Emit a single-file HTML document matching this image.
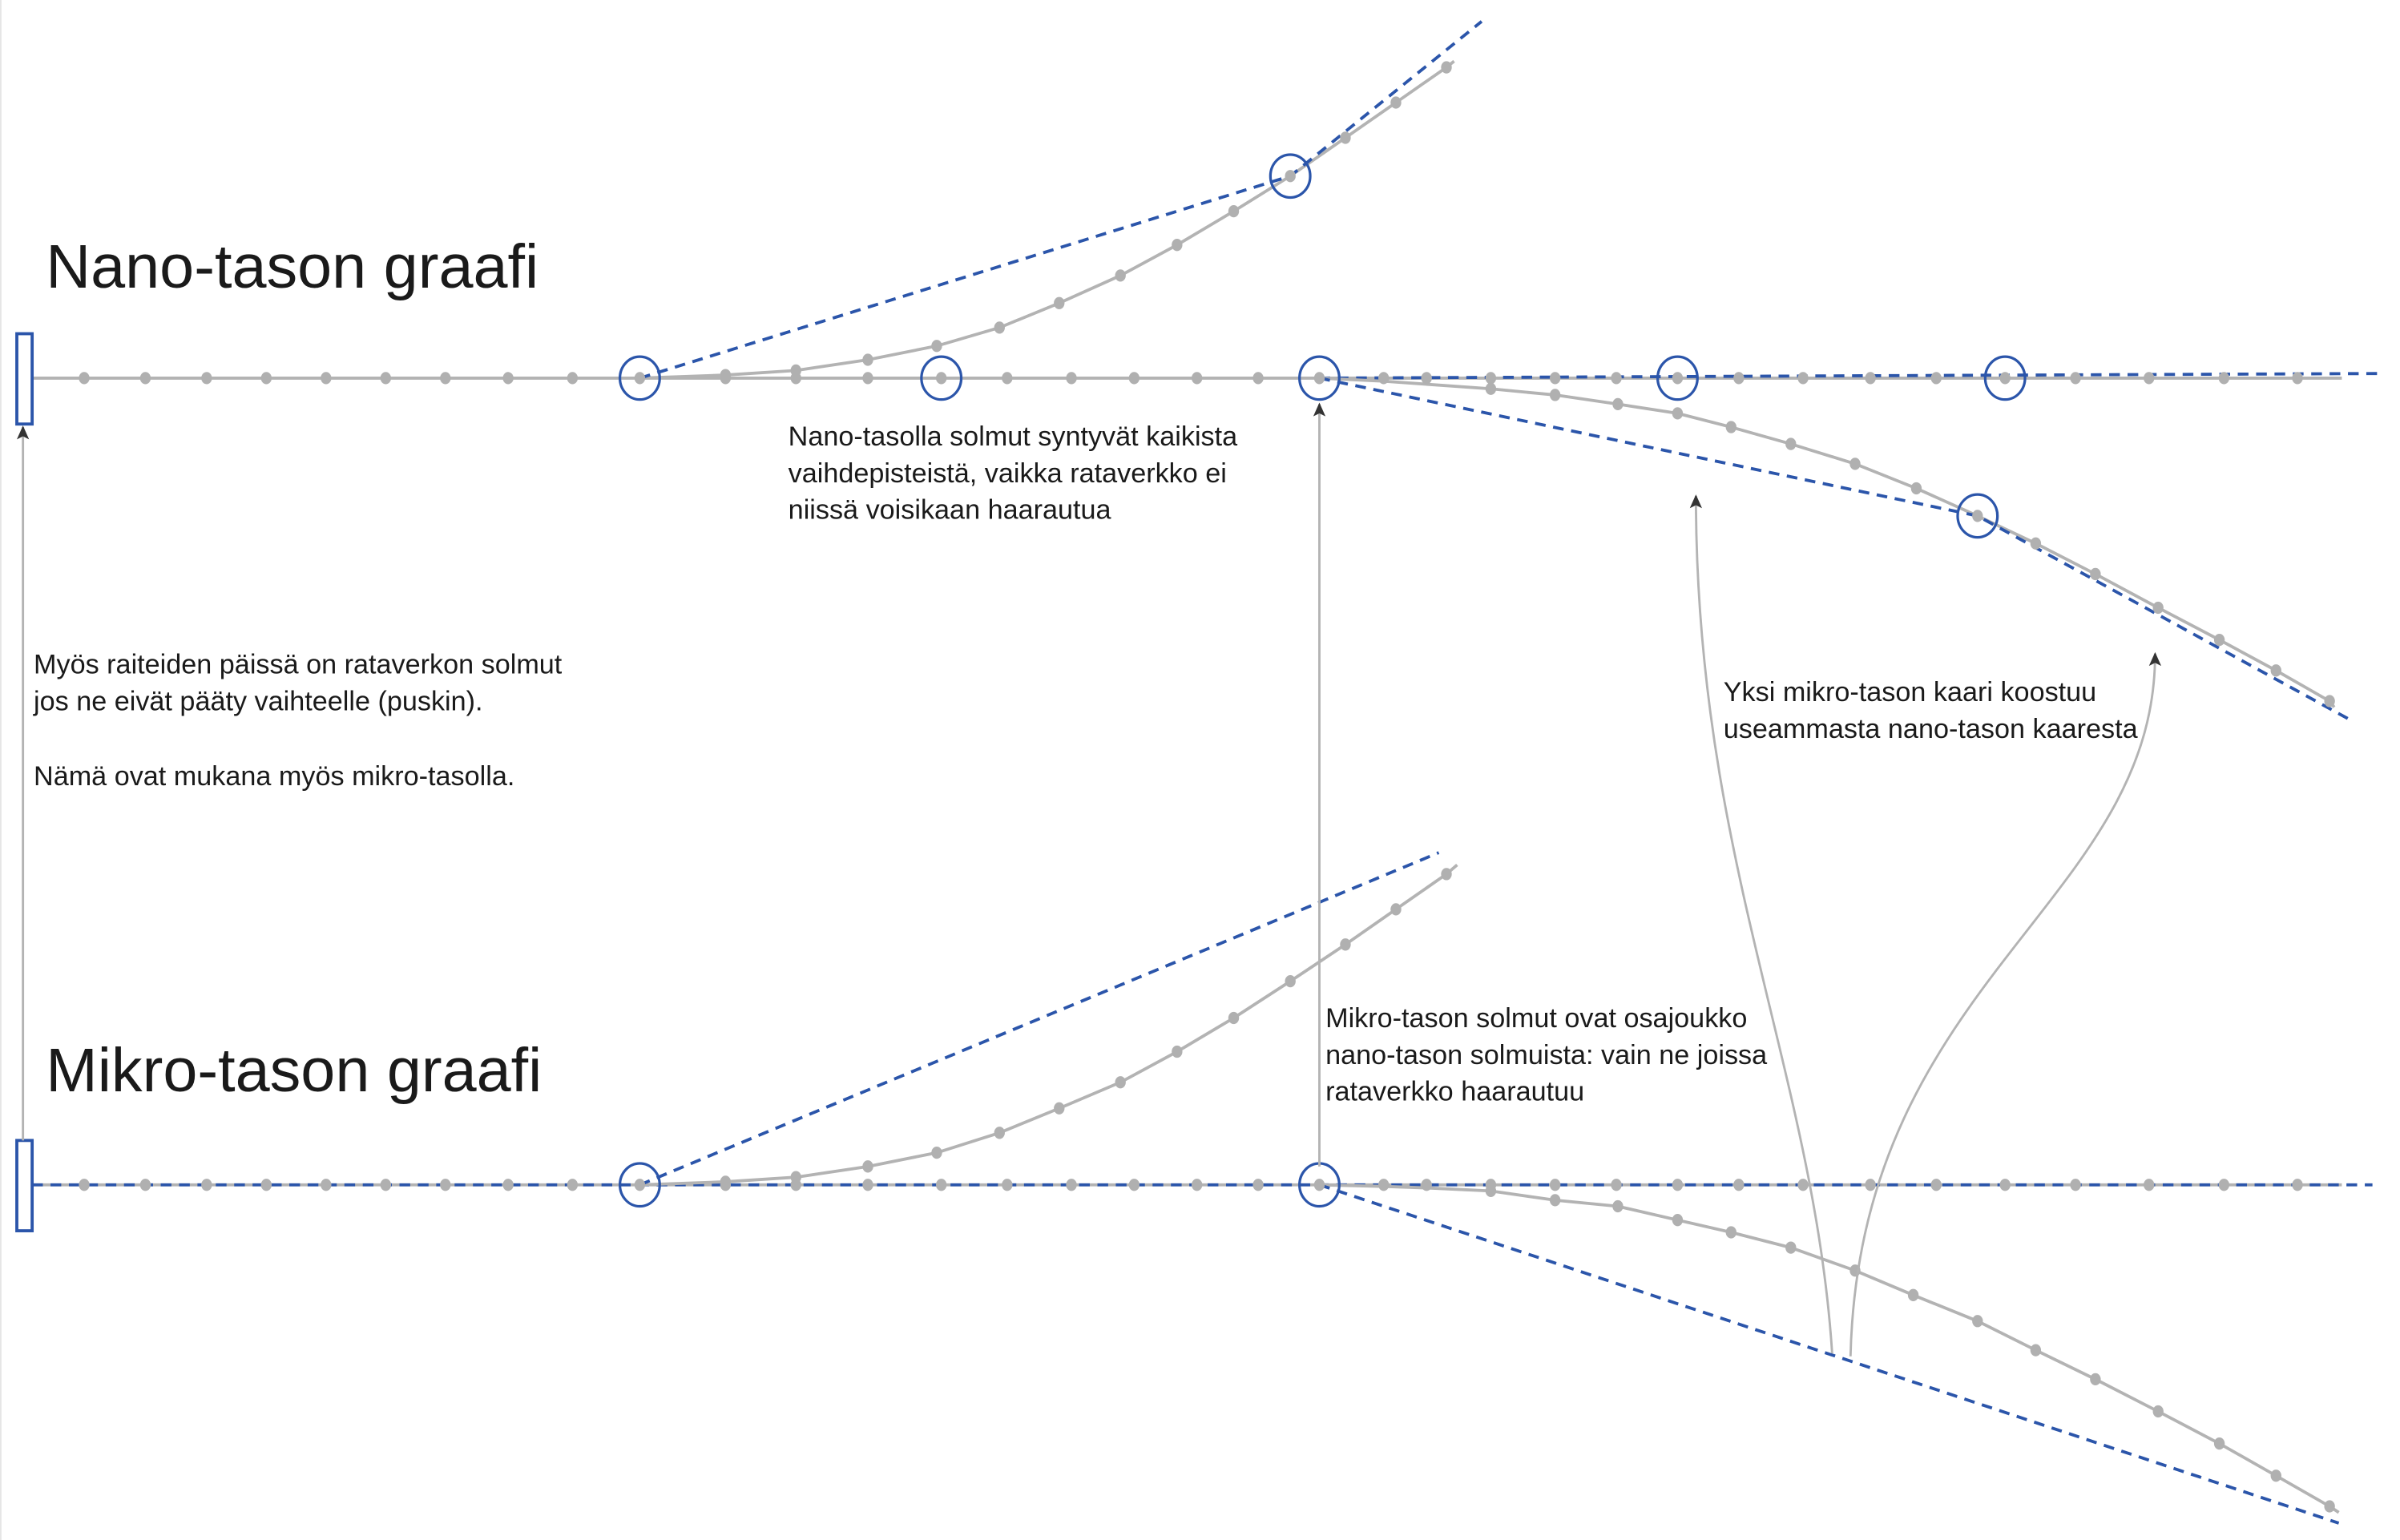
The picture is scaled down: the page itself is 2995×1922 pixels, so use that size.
<!DOCTYPE html>
<html><head><meta charset="utf-8"><style>
html,body{margin:0;padding:0;background:#fff;}
svg{display:block;}
text{font-family:"Liberation Sans",sans-serif;fill:#1a1a1a;}
.s{font-size:17.9px;}
.t{font-size:40.5px;}
.g{fill:none;stroke:#b3b3b3;stroke-width:2;}
.b{fill:none;stroke:#2b55aa;stroke-width:2;stroke-dasharray:7,5;}
.c{fill:none;stroke:#2b55aa;stroke-width:1.7;}
.a{fill:none;stroke:#b3b3b3;stroke-width:1.5;}
</style></head><body>
<svg width="2995" height="1922" viewBox="0 0 1568 1006" preserveAspectRatio="none" xmlns="http://www.w3.org/2000/svg">
<defs><marker id="ar" markerWidth="9" markerHeight="8" refX="8" refY="4" orient="auto" markerUnits="userSpaceOnUse"><path d="M0,0 L9,4 L0,8 L2,4 Z" fill="#333"/></marker></defs>
<rect x="0" y="0" width="1568" height="1006" fill="#fff"/>
<line x1="0.5" y1="0" x2="0.5" y2="1006" stroke="#e6e6e6"/>
<text class="t" x="30" y="188">Nano-tason graafi</text>
<text class="t" x="30" y="713">Mikro-tason graafi</text>

<!-- NANO -->
<line x1="21" y1="247" x2="418" y2="247" stroke="#8aa3d6" stroke-width="1.5" stroke-dasharray="7,5"/>
<line class="g" x1="21" y1="247" x2="1530" y2="247"/>
<polyline class="g" points="418,247 474,245 520,242 567,235 612,226 653,214 692,198 732,180 769,160 806,138 843,115 879,90 912,67 945,44 950,40"/>
<polyline class="b" points="418,247 843,115 968,14"/>
<line class="b" x1="862" y1="247" x2="1555" y2="244"/>
<polyline class="g" points="862,247 904,249 932,251 974,254 1016,258 1057,264 1096,270 1131,279 1170,290 1212,303 1252,319 1292,337 1330,355 1369,375 1410,397 1450,418 1487,438 1522,458 1525,462"/>
<polyline class="b" points="862,247 1292,337 1535,470"/>
<rect x="11" y="218" width="10" height="59" fill="#fff" stroke="#2b55aa" stroke-width="2"/>
<g fill="#b0b0b0">
<ellipse cx="55" cy="247" rx="3.5" ry="4"/><ellipse cx="95" cy="247" rx="3.5" ry="4"/><ellipse cx="135" cy="247" rx="3.5" ry="4"/><ellipse cx="174" cy="247" rx="3.5" ry="4"/><ellipse cx="213" cy="247" rx="3.5" ry="4"/><ellipse cx="252" cy="247" rx="3.5" ry="4"/><ellipse cx="291" cy="247" rx="3.5" ry="4"/><ellipse cx="332" cy="247" rx="3.5" ry="4"/><ellipse cx="374" cy="247" rx="3.5" ry="4"/><ellipse cx="418" cy="247" rx="3.5" ry="4"/>
<ellipse cx="474" cy="247" rx="3.5" ry="4"/><ellipse cx="520" cy="247" rx="3.5" ry="4"/><ellipse cx="567" cy="247" rx="3.5" ry="4"/><ellipse cx="615" cy="247" rx="3.5" ry="4"/><ellipse cx="658" cy="247" rx="3.5" ry="4"/><ellipse cx="700" cy="247" rx="3.5" ry="4"/><ellipse cx="741" cy="247" rx="3.5" ry="4"/><ellipse cx="782" cy="247" rx="3.5" ry="4"/><ellipse cx="822" cy="247" rx="3.5" ry="4"/><ellipse cx="862" cy="247" rx="3.5" ry="4"/><ellipse cx="904" cy="247" rx="3.5" ry="4"/><ellipse cx="932" cy="247" rx="3.5" ry="4"/><ellipse cx="974" cy="247" rx="3.5" ry="4"/><ellipse cx="1016" cy="247" rx="3.5" ry="4"/><ellipse cx="1056" cy="247" rx="3.5" ry="4"/><ellipse cx="1096" cy="247" rx="3.5" ry="4"/><ellipse cx="1136" cy="247" rx="3.5" ry="4"/><ellipse cx="1178" cy="247" rx="3.5" ry="4"/><ellipse cx="1222" cy="247" rx="3.5" ry="4"/><ellipse cx="1265" cy="247" rx="3.5" ry="4"/><ellipse cx="1310" cy="247" rx="3.5" ry="4"/><ellipse cx="1356" cy="247" rx="3.5" ry="4"/><ellipse cx="1404" cy="247" rx="3.5" ry="4"/><ellipse cx="1453" cy="247" rx="3.5" ry="4"/><ellipse cx="1501" cy="247" rx="3.5" ry="4"/>
<ellipse cx="474" cy="245" rx="3.5" ry="4"/><ellipse cx="520" cy="242" rx="3.5" ry="4"/><ellipse cx="567" cy="235" rx="3.5" ry="4"/><ellipse cx="612" cy="226" rx="3.5" ry="4"/><ellipse cx="653" cy="214" rx="3.5" ry="4"/><ellipse cx="692" cy="198" rx="3.5" ry="4"/><ellipse cx="732" cy="180" rx="3.5" ry="4"/><ellipse cx="769" cy="160" rx="3.5" ry="4"/><ellipse cx="806" cy="138" rx="3.5" ry="4"/><ellipse cx="843" cy="115" rx="3.5" ry="4"/><ellipse cx="879" cy="90" rx="3.5" ry="4"/><ellipse cx="912" cy="67" rx="3.5" ry="4"/><ellipse cx="945" cy="44" rx="3.5" ry="4"/>
<ellipse cx="974" cy="254" rx="3.5" ry="4"/><ellipse cx="1016" cy="258" rx="3.5" ry="4"/><ellipse cx="1057" cy="264" rx="3.5" ry="4"/><ellipse cx="1096" cy="270" rx="3.5" ry="4"/><ellipse cx="1131" cy="279" rx="3.5" ry="4"/><ellipse cx="1170" cy="290" rx="3.5" ry="4"/><ellipse cx="1212" cy="303" rx="3.5" ry="4"/><ellipse cx="1252" cy="319" rx="3.5" ry="4"/><ellipse cx="1292" cy="337" rx="3.5" ry="4"/><ellipse cx="1330" cy="355" rx="3.5" ry="4"/><ellipse cx="1369" cy="375" rx="3.5" ry="4"/><ellipse cx="1410" cy="397" rx="3.5" ry="4"/><ellipse cx="1450" cy="418" rx="3.5" ry="4"/><ellipse cx="1487" cy="438" rx="3.5" ry="4"/><ellipse cx="1522" cy="458" rx="3.5" ry="4"/>
</g>
<ellipse class="c" cx="418" cy="247" rx="13" ry="14"/>
<ellipse class="c" cx="615" cy="247" rx="13" ry="14"/>
<ellipse class="c" cx="862" cy="247" rx="13" ry="14"/>
<ellipse class="c" cx="1096" cy="247" rx="13" ry="14"/>
<ellipse class="c" cx="1310" cy="247" rx="13" ry="14"/>
<ellipse class="c" cx="843" cy="115" rx="13" ry="14"/>
<ellipse class="c" cx="1292" cy="337" rx="13" ry="14"/>

<!-- MIKRO -->
<line class="g" x1="21" y1="774" x2="1530" y2="774"/>
<line class="b" x1="21" y1="774" x2="1550" y2="774"/>
<polyline class="g" points="418,774 474,772 520,769 567,762 612,753 653,740 692,724 732,707 769,687 806,665 843,641 879,617 912,594 945,571 952,565"/>
<line class="b" x1="418" y1="774" x2="940" y2="557"/>
<polyline class="g" points="862,774 904,775 932,776 974,778 1016,784 1057,788 1096,797 1131,805 1170,815 1212,830 1250,846 1292,863 1330,882 1369,901 1410,922 1450,943 1487,964 1522,984 1528,988"/>
<line class="b" x1="862" y1="774" x2="1528" y2="995"/>
<rect x="11" y="745" width="10" height="59" fill="#fff" stroke="#2b55aa" stroke-width="2"/>
<g fill="#b0b0b0">
<ellipse cx="55" cy="774" rx="3.5" ry="4"/><ellipse cx="95" cy="774" rx="3.5" ry="4"/><ellipse cx="135" cy="774" rx="3.5" ry="4"/><ellipse cx="174" cy="774" rx="3.5" ry="4"/><ellipse cx="213" cy="774" rx="3.5" ry="4"/><ellipse cx="252" cy="774" rx="3.5" ry="4"/><ellipse cx="291" cy="774" rx="3.5" ry="4"/><ellipse cx="332" cy="774" rx="3.5" ry="4"/><ellipse cx="374" cy="774" rx="3.5" ry="4"/><ellipse cx="418" cy="774" rx="3.5" ry="4"/>
<ellipse cx="474" cy="774" rx="3.5" ry="4"/><ellipse cx="520" cy="774" rx="3.5" ry="4"/><ellipse cx="567" cy="774" rx="3.5" ry="4"/><ellipse cx="615" cy="774" rx="3.5" ry="4"/><ellipse cx="658" cy="774" rx="3.5" ry="4"/><ellipse cx="700" cy="774" rx="3.5" ry="4"/><ellipse cx="741" cy="774" rx="3.5" ry="4"/><ellipse cx="782" cy="774" rx="3.5" ry="4"/><ellipse cx="822" cy="774" rx="3.5" ry="4"/><ellipse cx="862" cy="774" rx="3.5" ry="4"/><ellipse cx="904" cy="774" rx="3.5" ry="4"/><ellipse cx="932" cy="774" rx="3.5" ry="4"/><ellipse cx="974" cy="774" rx="3.5" ry="4"/><ellipse cx="1016" cy="774" rx="3.5" ry="4"/><ellipse cx="1056" cy="774" rx="3.5" ry="4"/><ellipse cx="1096" cy="774" rx="3.5" ry="4"/><ellipse cx="1136" cy="774" rx="3.5" ry="4"/><ellipse cx="1178" cy="774" rx="3.5" ry="4"/><ellipse cx="1222" cy="774" rx="3.5" ry="4"/><ellipse cx="1265" cy="774" rx="3.5" ry="4"/><ellipse cx="1310" cy="774" rx="3.5" ry="4"/><ellipse cx="1356" cy="774" rx="3.5" ry="4"/><ellipse cx="1404" cy="774" rx="3.5" ry="4"/><ellipse cx="1453" cy="774" rx="3.5" ry="4"/><ellipse cx="1501" cy="774" rx="3.5" ry="4"/>
<ellipse cx="474" cy="772" rx="3.5" ry="4"/><ellipse cx="520" cy="769" rx="3.5" ry="4"/><ellipse cx="567" cy="762" rx="3.5" ry="4"/><ellipse cx="612" cy="753" rx="3.5" ry="4"/><ellipse cx="653" cy="740" rx="3.5" ry="4"/><ellipse cx="692" cy="724" rx="3.5" ry="4"/><ellipse cx="732" cy="707" rx="3.5" ry="4"/><ellipse cx="769" cy="687" rx="3.5" ry="4"/><ellipse cx="806" cy="665" rx="3.5" ry="4"/><ellipse cx="843" cy="641" rx="3.5" ry="4"/><ellipse cx="879" cy="617" rx="3.5" ry="4"/><ellipse cx="912" cy="594" rx="3.5" ry="4"/><ellipse cx="945" cy="571" rx="3.5" ry="4"/>
<ellipse cx="974" cy="778" rx="3.5" ry="4"/><ellipse cx="1016" cy="784" rx="3.5" ry="4"/><ellipse cx="1057" cy="788" rx="3.5" ry="4"/><ellipse cx="1096" cy="797" rx="3.5" ry="4"/><ellipse cx="1131" cy="805" rx="3.5" ry="4"/><ellipse cx="1170" cy="815" rx="3.5" ry="4"/><ellipse cx="1212" cy="830" rx="3.5" ry="4"/><ellipse cx="1250" cy="846" rx="3.5" ry="4"/><ellipse cx="1292" cy="863" rx="3.5" ry="4"/><ellipse cx="1330" cy="882" rx="3.5" ry="4"/><ellipse cx="1369" cy="901" rx="3.5" ry="4"/><ellipse cx="1410" cy="922" rx="3.5" ry="4"/><ellipse cx="1450" cy="943" rx="3.5" ry="4"/><ellipse cx="1487" cy="964" rx="3.5" ry="4"/><ellipse cx="1522" cy="984" rx="3.5" ry="4"/>
</g>
<ellipse class="c" cx="418" cy="774" rx="13" ry="14"/>
<ellipse class="c" cx="862" cy="774" rx="13" ry="14"/>

<!-- arrows -->
<line class="a" x1="15" y1="745" x2="15" y2="279" marker-end="url(#ar)"/>
<line class="a" x1="862" y1="762" x2="862" y2="264" marker-end="url(#ar)"/>
<path class="a" d="M1197,884 C1185,700 1108,560 1108,324" marker-end="url(#ar)"/>
<path class="a" d="M1209,886 C1215,640 1408,590 1408,427" marker-end="url(#ar)"/>

<!-- texts -->
<text class="s" x="515" y="291">Nano-tasolla solmut syntyvät kaikista</text>
<text class="s" x="515" y="315">vaihdepisteistä, vaikka rataverkko ei</text>
<text class="s" x="515" y="339">niissä voisikaan haarautua</text>
<text class="s" x="22" y="440">Myös raiteiden päissä on rataverkon solmut</text>
<text class="s" x="22" y="464">jos ne eivät pääty vaihteelle (puskin).</text>
<text class="s" x="22" y="513">Nämä ovat mukana myös mikro-tasolla.</text>
<text class="s" x="866" y="671">Mikro-tason solmut ovat osajoukko</text>
<text class="s" x="866" y="695">nano-tason solmuista: vain ne joissa</text>
<text class="s" x="866" y="719">rataverkko haarautuu</text>
<text class="s" x="1126" y="458">Yksi mikro-tason kaari koostuu</text>
<text class="s" x="1126" y="482">useammasta nano-tason kaaresta</text>
</svg>
</body></html>
